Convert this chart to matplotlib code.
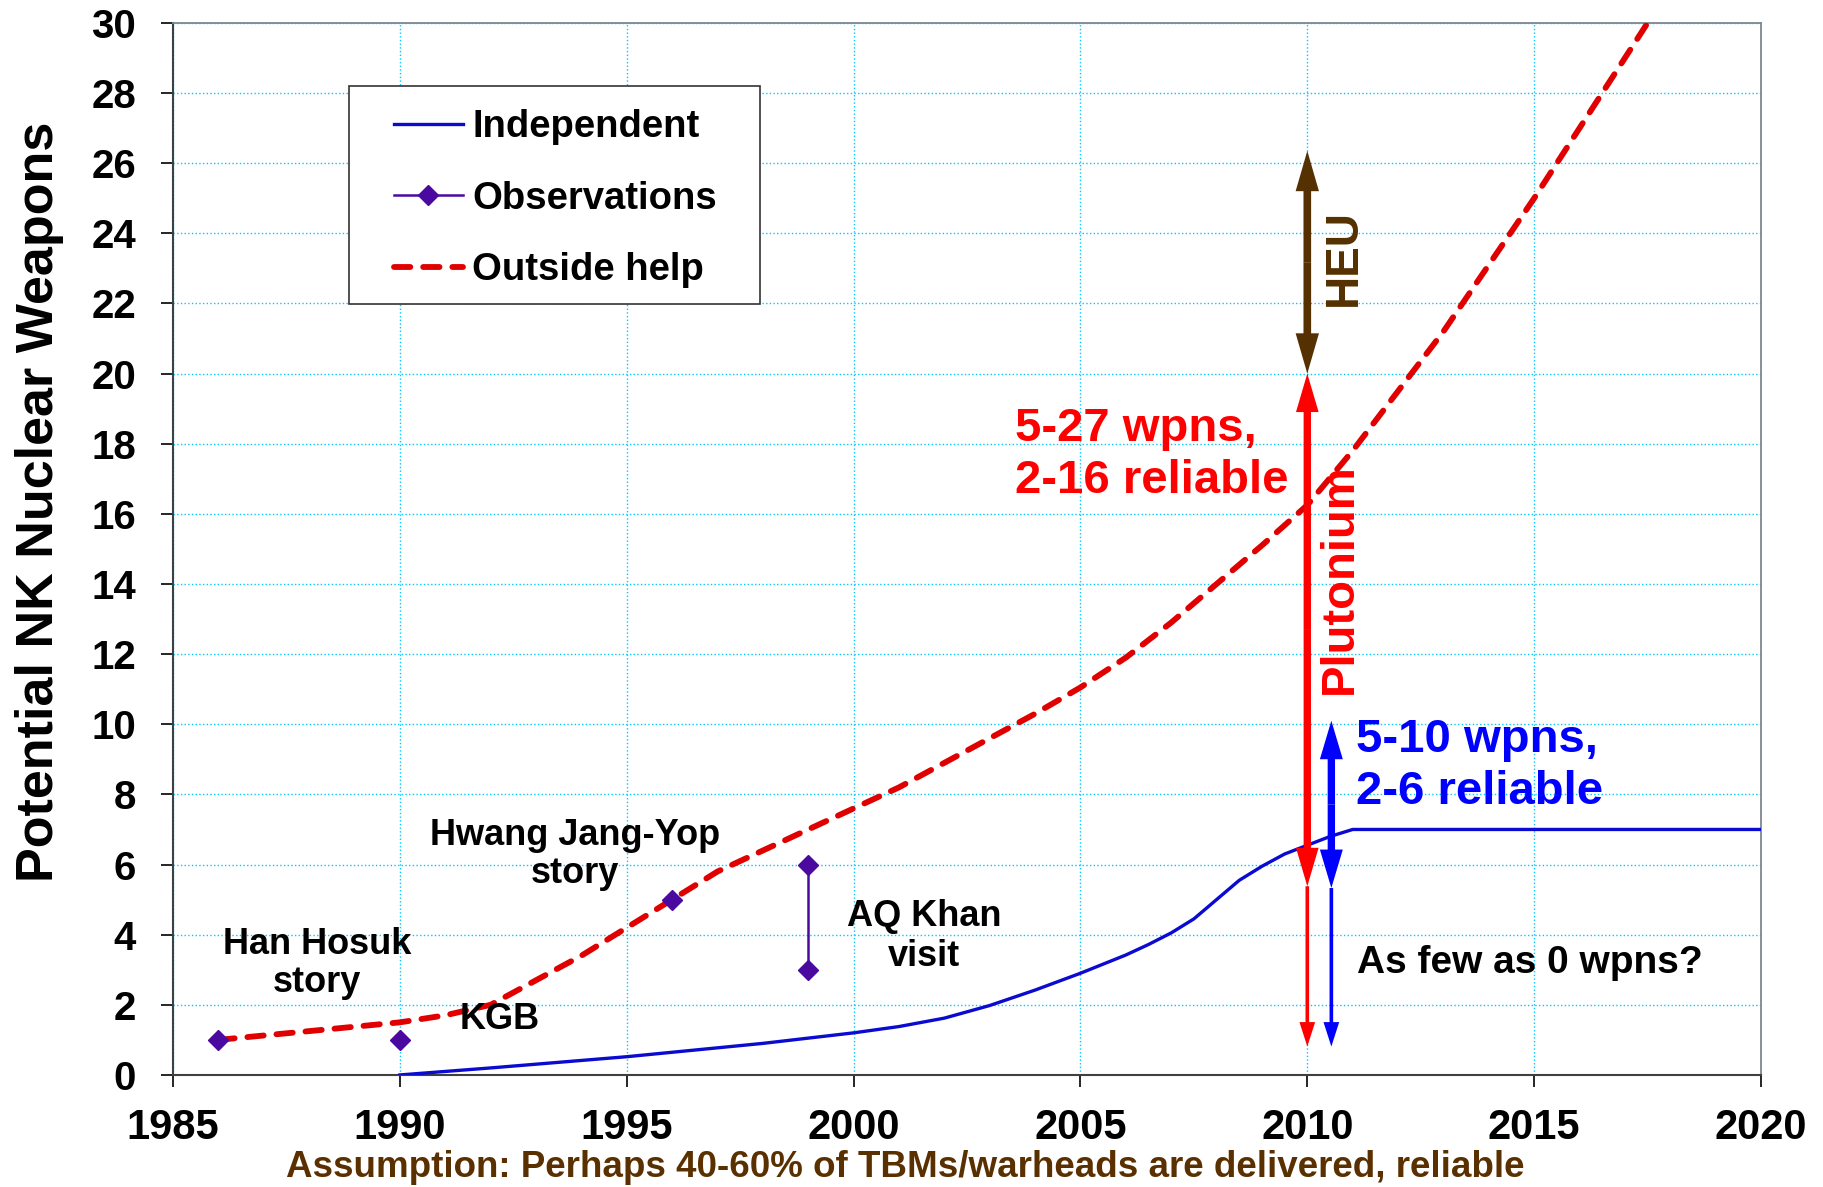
import matplotlib
matplotlib.use("Agg")
import matplotlib.pyplot as plt
from matplotlib.lines import Line2D
from matplotlib.patches import FancyArrowPatch, Rectangle, ArrowStyle

plt.rcParams['font.family'] = ['Liberation Sans', 'DejaVu Sans']
plt.rcParams['font.weight'] = 'bold'

# Independent (plutonium only) estimate
indep_years = [1990, 1992, 1995, 1998, 2000, 2001, 2002, 2003, 2004, 2005, 2006,
               2006.5, 2007, 2007.5, 2008, 2008.5, 2009, 2009.5, 2010, 2010.5,
               2011, 2020]
indep_wpns = [0.0, 0.2, 0.52, 0.9, 1.2, 1.38, 1.62, 1.98, 2.42, 2.9, 3.42,
              3.72, 4.05, 4.45, 5.0, 5.55, 5.95, 6.3, 6.55, 6.8,
              7.0, 7.0]

# Outside help estimate
help_years = [1986, 1988, 1990, 1991, 1992, 1993, 1994, 1995, 1996, 1997, 1998,
              1999, 2000, 2001, 2002, 2003, 2004, 2005, 2006, 2007, 2008, 2009,
              2010, 2011, 2012, 2013, 2014, 2015, 2016, 2017, 2018]
help_wpns = [1.0, 1.25, 1.5, 1.7, 2.0, 2.7, 3.4, 4.2, 5.0, 5.8, 6.4,
             7.0, 7.6, 8.2, 8.9, 9.6, 10.3, 11.05, 11.9, 12.9, 14.0, 15.1,
             16.25, 17.8, 19.5, 21.2, 23.1, 25.0, 27.0, 29.0, 31.0]

# Observations
obs_years = [1986, 1990, 1996, 1999, 1999]
obs_wpns = [1, 1, 5, 6, 3]

BLUE_LINE = '#0a0ad0'
RED_DASH = '#e00000'
PURPLE = '#4a0aa0'
BROWN = '#553000'
RED = '#ff0000'
BLUE = '#0000ff'

fig = plt.figure(figsize=(18.23, 11.87), dpi=100)
ax = fig.add_axes([0.0949, 0.0944, 0.8711, 0.8863])

ax.plot(indep_years, indep_wpns, color=BLUE_LINE, lw=2.4, zorder=3)
ax.plot(help_years, help_wpns, color=RED_DASH, lw=4.2, dashes=(2.8, 2.2),
        dash_capstyle='round', zorder=3)
ax.plot(obs_years[3:], obs_wpns[3:], color=PURPLE, lw=1.8, zorder=4)
ax.plot(obs_years, obs_wpns, ls='none', marker='D', ms=10.5, color=PURPLE, zorder=4)

ax.set_xlim(1985, 2020)
ax.set_ylim(0, 30)
ax.set_xticks(range(1985, 2021, 5))
ax.set_yticks(range(0, 31, 2))
ax.grid(True, color='#00c8ff', ls=':', lw=1.0)
ax.set_axisbelow(True)
ax.tick_params(axis='x', direction='out', length=8.5, width=1.2, pad=15, labelsize=30)
ax.tick_params(axis='y', direction='out', length=8.5, width=1.2, pad=18, labelsize=29)
for lab in ax.get_xticklabels() + ax.get_yticklabels():
    lab.set_fontweight('bold')
for side in ['left', 'bottom']:
    ax.spines[side].set_color('#404040')
    ax.spines[side].set_linewidth(1.5)
for side in ['top', 'right']:
    ax.spines[side].set_color('#7f8790')
    ax.spines[side].set_linewidth(1.3)


def arrow(x, y0, y1, color, tail, hw, hl):
    # single-headed filled arrow from y0 to y1 (sizes in points)
    style = ArrowStyle.Simple(head_length=hl, head_width=hw, tail_width=tail)
    p = FancyArrowPatch((x, y0), (x, y1), arrowstyle=style, mutation_scale=1,
                        color=color, lw=0, shrinkA=0, shrinkB=0, zorder=6)
    ax.add_patch(p)


def double_arrow(x, y0, y1, color, tail, hw, hl):
    mid = (y0 + y1) / 2
    arrow(x, mid, y0, color, tail, hw, hl)
    arrow(x, mid, y1, color, tail, hw, hl)


# HEU
double_arrow(2010.0, 20.0, 26.35, BROWN, 5.5, 16.8, 29)
# Plutonium with outside help
double_arrow(2010.0, 5.38, 20.0, RED, 5.3, 16.3, 27.7)
arrow(2010.0, 5.38, 0.81, RED, 2.6, 11.3, 17.6)
# Independent
double_arrow(2010.53, 5.33, 10.1, BLUE, 5.3, 16.5, 27.7)
arrow(2010.53, 5.33, 0.81, BLUE, 2.6, 11.3, 17.6)

# y positions below are the baseline of the last line
ax.text(2011.07, 23.3, 'HEU', color=BROWN, fontsize=33, fontweight='bold',
        rotation=90, rotation_mode='anchor', ha='center', va='baseline', zorder=7)
ax.text(2010.98, 14.15, 'Plutonium', color=RED, fontsize=34, fontweight='bold',
        rotation=90, rotation_mode='anchor', ha='center', va='baseline', zorder=7)
ax.text(2003.56, 16.6, '5-27 wpns,\n2-16 reliable', color=RED, fontsize=34,
        fontweight='bold', ha='left', va='baseline', linespacing=1.22, zorder=7)
ax.text(2011.07, 7.73, '5-10 wpns,\n2-6 reliable', color=BLUE, fontsize=34,
        fontweight='bold', ha='left', va='baseline', linespacing=1.22, zorder=7)
ax.text(2011.1, 2.9, 'As few as 0 wpns?', color='black', fontsize=28,
        fontweight='bold', ha='left', va='baseline', zorder=7)

ax.text(1993.86, 5.47, 'Hwang Jang-Yop\nstory', fontsize=26, fontweight='bold',
        ha='center', va='baseline', multialignment='center', linespacing=1.12, zorder=7)
ax.text(1988.17, 2.37, 'Han Hosuk\nstory', fontsize=26, fontweight='bold',
        ha='center', va='baseline', multialignment='center', linespacing=1.12, zorder=7)
ax.text(1992.19, 1.31, 'KGB', fontsize=26, fontweight='bold',
        ha='center', va='baseline', zorder=7)
ax.text(2001.55, 3.1, 'AQ Khan\nvisit', fontsize=26, fontweight='bold',
        ha='center', va='baseline', multialignment='center', linespacing=1.2, zorder=7)

# legend with a hand drawn frame
ax.add_patch(Rectangle((0.1108, 0.7329), 0.2588, 0.2072, transform=ax.transAxes,
                       facecolor='white', edgecolor='#333333', lw=1.2, zorder=8))
handles = [
    Line2D([], [], color=BLUE_LINE, lw=2.4),
    Line2D([], [], color=PURPLE, lw=1.8, marker='D', ms=10.5),
    Line2D([], [], color=RED_DASH, lw=4.2, dashes=(2.8, 2.2), dash_capstyle='round'),
]
leg = ax.legend(handles, ['Independent', 'Observations', 'Outside help'],
                loc='upper left', bbox_to_anchor=(0.1392, 0.918), frameon=False,
                borderpad=0, borderaxespad=0, handlelength=1.8,
                handletextpad=0.25, labelspacing=0.93,
                prop={'weight': 'bold', 'size': 27.5})
leg.set_zorder(9)

fig.text(0.0291, 0.5771, 'Potential NK Nuclear Weapons', fontsize=37.5,
         fontweight='bold', rotation=90, rotation_mode='anchor',
         ha='center', va='baseline')
fig.text(0.4965, 0.0084,
         'Assumption: Perhaps 40-60% of TBMs/warheads are delivered, reliable',
         color='#5a3000', fontsize=26.5, fontweight='bold', ha='center', va='baseline')

fig.savefig('out.png', dpi=100)
